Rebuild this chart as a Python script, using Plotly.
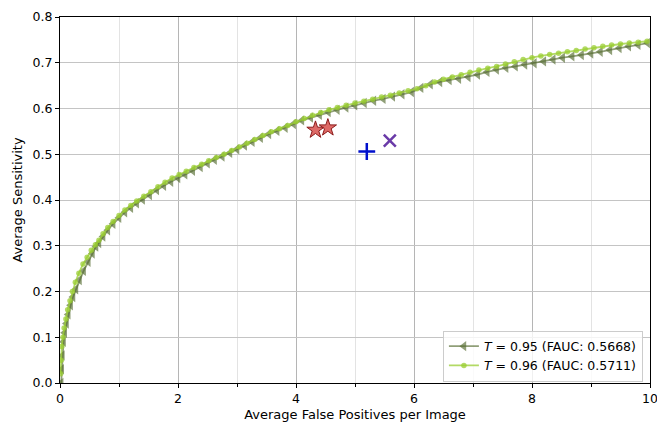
import plotly.graph_objects as go

# FROC curve, threshold T = 0.95
fp_t95 = [0.02, 0.03, 0.04, 0.06, 0.08, 0.11, 0.14, 0.18, 0.22, 0.27, 0.33, 0.40, 0.48, 0.55,
          0.61, 0.66, 0.73, 0.81, 0.90, 1.00, 1.10, 1.20, 1.30, 1.40, 1.52, 1.64, 1.76, 1.88,
          2.00, 2.12, 2.25, 2.38, 2.50, 2.62, 2.75, 2.88, 3.00, 3.13, 3.26, 3.40, 3.54, 3.68,
          3.82, 3.96, 4.10, 4.25, 4.40, 4.55, 4.70, 4.85, 5.00, 5.16, 5.32, 5.48, 5.64, 5.80,
          5.96, 6.12, 6.28, 6.44, 6.60, 6.76, 6.92, 7.08, 7.24, 7.40, 7.56, 7.72, 7.88, 8.04,
          8.20, 8.36, 8.52, 8.68, 8.84, 9.00, 9.16, 9.32, 9.48, 9.64, 9.80, 9.96]
sens_t95 = [0.000, 0.030, 0.060, 0.090, 0.110, 0.130, 0.150, 0.170, 0.188, 0.205, 0.225, 0.245,
            0.265, 0.283, 0.298, 0.306, 0.320, 0.334, 0.348, 0.361, 0.373, 0.383, 0.393, 0.401,
            0.411, 0.422, 0.431, 0.440, 0.448, 0.456, 0.464, 0.472, 0.480, 0.488, 0.495, 0.503,
            0.511, 0.519, 0.527, 0.536, 0.544, 0.551, 0.558, 0.566, 0.574, 0.580, 0.586, 0.592,
            0.597, 0.602, 0.607, 0.612, 0.617, 0.621, 0.626, 0.631, 0.636, 0.645, 0.653, 0.658,
            0.662, 0.665, 0.669, 0.674, 0.680, 0.685, 0.689, 0.692, 0.696, 0.699, 0.703, 0.707,
            0.711, 0.714, 0.717, 0.720, 0.724, 0.728, 0.732, 0.736, 0.739, 0.743]

# FROC curve, threshold T = 0.96
fp_t96 = [0.01, 0.02, 0.03, 0.05, 0.07, 0.10, 0.13, 0.17, 0.21, 0.26, 0.32, 0.39, 0.46, 0.53,
          0.60, 0.66, 0.73, 0.81, 0.90, 1.00, 1.10, 1.20, 1.30, 1.42, 1.54, 1.66, 1.78, 1.90,
          2.02, 2.14, 2.27, 2.40, 2.52, 2.65, 2.78, 2.91, 3.04, 3.17, 3.30, 3.44, 3.58, 3.72,
          3.86, 4.00, 4.14, 4.28, 4.42, 4.56, 4.70, 4.85, 5.00, 5.15, 5.30, 5.45, 5.60, 5.75,
          5.90, 6.05, 6.20, 6.35, 6.50, 6.65, 6.80, 6.95, 7.10, 7.25, 7.40, 7.55, 7.70, 7.85,
          8.00, 8.15, 8.30, 8.45, 8.60, 8.75, 8.90, 9.05, 9.20, 9.35, 9.50, 9.65, 9.80, 9.95]
sens_t96 = [0.020, 0.050, 0.080, 0.100, 0.120, 0.140, 0.160, 0.180, 0.200, 0.220, 0.240, 0.260,
            0.275, 0.290, 0.302, 0.312, 0.326, 0.340, 0.353, 0.366, 0.378, 0.388, 0.398, 0.408,
            0.418, 0.429, 0.439, 0.448, 0.456, 0.463, 0.471, 0.478, 0.486, 0.493, 0.500, 0.508,
            0.516, 0.524, 0.532, 0.541, 0.549, 0.556, 0.563, 0.571, 0.578, 0.585, 0.591, 0.597,
            0.602, 0.607, 0.612, 0.616, 0.620, 0.625, 0.629, 0.634, 0.639, 0.643, 0.650, 0.658,
            0.664, 0.669, 0.674, 0.679, 0.684, 0.688, 0.692, 0.697, 0.702, 0.707, 0.711, 0.715,
            0.718, 0.721, 0.724, 0.727, 0.730, 0.733, 0.736, 0.739, 0.741, 0.743, 0.745, 0.747]

# Single operating points of other methods
star_fp = [4.33, 4.54]
star_sens = [0.553, 0.558]
plus_fp = [5.20]
plus_sens = [0.506]
cross_fp = [5.59]
cross_sens = [0.530]

labels = ["<i>T</i> = 0.95 (FAUC: 0.5668)", "<i>T</i> = 0.96 (FAUC: 0.5711)"]

dark = "rgba(85,107,47,0.65)"
light = "rgba(154,205,50,0.75)"

fig = go.Figure()

fig.add_trace(go.Scatter(
    x=fp_t95, y=sens_t95, mode="lines+markers", name=labels[0],
    line=dict(color=dark, width=1.8),
    marker=dict(symbol="triangle-left", size=9, color=dark, line=dict(width=0)),
))
fig.add_trace(go.Scatter(
    x=fp_t96, y=sens_t96, mode="lines+markers", name=labels[1],
    line=dict(color=light, width=1.8),
    marker=dict(symbol="circle", size=5.5, color=light, line=dict(width=0)),
))
fig.add_trace(go.Scatter(
    x=star_fp, y=star_sens, mode="markers", showlegend=False,
    marker=dict(symbol="star", size=13, color="rgba(214,69,65,0.8)",
                line=dict(color="#8b1a1a", width=1)),
))
fig.add_trace(go.Scatter(
    x=plus_fp, y=plus_sens, mode="markers", showlegend=False,
    marker=dict(symbol="cross-thin", size=12, color="#0010cc",
                line=dict(color="#0010cc", width=2.5)),
))
fig.add_trace(go.Scatter(
    x=cross_fp, y=cross_sens, mode="markers", showlegend=False,
    marker=dict(symbol="x-thin", size=12, color="#6a3aa8",
                line=dict(color="#6a3aa8", width=2.5)),
))

font = "DejaVu Sans, sans-serif"

fig.update_layout(
    width=657, height=424,
    margin=dict(l=60, r=7, t=17, b=41, autoexpand=False),
    plot_bgcolor="white", paper_bgcolor="white",
    font=dict(family=font, size=12.5, color="black"),
    showlegend=True,
    legend=dict(
        x=0.988, y=0.004, xanchor="right", yanchor="bottom",
        bgcolor="rgba(255,255,255,0.8)", bordercolor="#cccccc", borderwidth=1,
        font=dict(family=font, size=12.5), tracegroupgap=0, itemwidth=30,
    ),
)

fig.update_xaxes(
    range=[0, 10], tickvals=[0, 2, 4, 6, 8, 10], ticks="outside", ticklen=4,
    tickcolor="black", showline=True, linecolor="black", linewidth=1.2, mirror=True,
    showgrid=True, gridcolor="#b5b5b5", gridwidth=1, zeroline=False, automargin=False,
    ticklabeloverflow="allow", tickfont=dict(size=12.5),
    minor=dict(tickvals=[1, 3, 5, 7, 9], ticks="outside", ticklen=2.5, tickcolor="black",
               showgrid=True, gridcolor="#e3e3e3", gridwidth=1),
    title=dict(text="Average False Positives per Image", font=dict(size=13), standoff=4),
)
fig.update_yaxes(
    range=[0, 0.8], tickvals=[0, 0.1, 0.2, 0.3, 0.4, 0.5, 0.6, 0.7, 0.8],
    tickformat=".1f", ticks="outside", ticklen=4, tickcolor="black",
    showline=True, linecolor="black", linewidth=1.2, mirror=True,
    showgrid=True, gridcolor="#c4c4c4", gridwidth=1, zeroline=False, automargin=False,
    ticklabeloverflow="allow", tickfont=dict(size=12.5),
    title=dict(text="Average Sensitivity", font=dict(size=13), standoff=6),
)

fig.write_html("out.html")
